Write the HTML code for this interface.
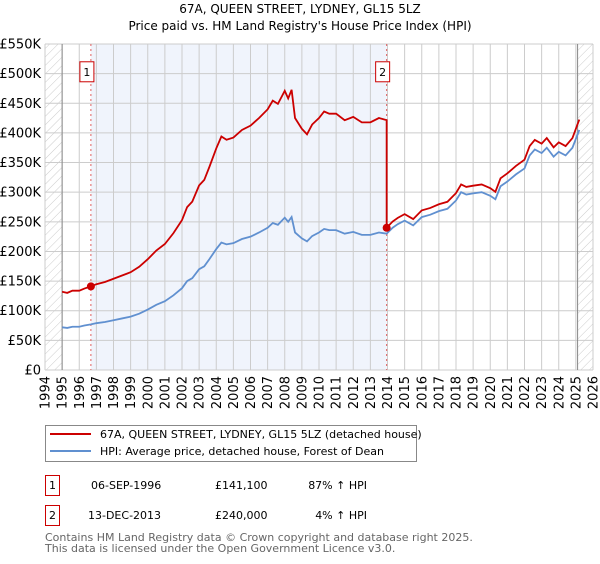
<!DOCTYPE html>
<html><head><meta charset="utf-8"><style>
body{margin:0;background:#fff;font-family:"DejaVu Sans","Liberation Sans",sans-serif;}
svg text{font-family:"DejaVu Sans","Liberation Sans",sans-serif;}
</style></head><body>
<svg id="c" width="600" height="560" xmlns="http://www.w3.org/2000/svg">
<defs><pattern id="hatch" width="6" height="6" patternUnits="userSpaceOnUse" patternTransform="rotate(45)"><line x1="0" y1="0" x2="0" y2="6" stroke="#ccc" stroke-width="1"/></pattern></defs>
<text x="300" y="13" text-anchor="middle" font-size="12">67A, QUEEN STREET, LYDNEY, GL15 5LZ</text>
<text x="300" y="30" text-anchor="middle" font-size="12">Price paid vs. HM Land Registry's House Price Index (HPI)</text>
<g id="plot"></g>
<g>
<rect x="45.5" y="425.5" width="371" height="36" fill="#fff" stroke="#888"/>
<line x1="50" y1="434" x2="91" y2="434" stroke="#cc0000" stroke-width="2"/>
<text x="100" y="438" font-size="11">67A, QUEEN STREET, LYDNEY, GL15 5LZ (detached house)</text>
<line x1="50" y1="451" x2="91" y2="451" stroke="#6090d0" stroke-width="2"/>
<text x="100" y="455" font-size="11">HPI: Average price, detached house, Forest of Dean</text>
</g>
<g font-size="11">
<rect x="45.5" y="475.5" width="14" height="20" fill="#fff" stroke="#cc0000"/>
<text x="52.5" y="489" text-anchor="middle">1</text>
<text x="91" y="489">06-SEP-1996</text><text x="215" y="489">£141,100</text><text x="367" y="489" text-anchor="end">87% ↑ HPI</text>
<rect x="45.5" y="505.5" width="14" height="20" fill="#fff" stroke="#cc0000"/>
<text x="52.5" y="519" text-anchor="middle">2</text>
<text x="88" y="519">13-DEC-2013</text><text x="215" y="519">£240,000</text><text x="367" y="519" text-anchor="end">4% ↑ HPI</text>
</g>
<text x="45" y="541" font-size="11" fill="#666">Contains HM Land Registry data © Crown copyright and database right 2025.</text>
<text x="45" y="552" font-size="11" fill="#666">This data is licensed under the Open Government Licence v3.0.</text>
</svg>
<script>
const hpiYears=[1995.0,1995.3,1995.6,1996.0,1996.3,1996.68,1997.0,1997.5,1998.0,1998.5,1999.0,1999.5,2000.0,2000.5,2001.0,2001.5,2002.0,2002.3,2002.6,2003.0,2003.3,2003.6,2004.0,2004.3,2004.6,2005.0,2005.5,2006.0,2006.5,2007.0,2007.3,2007.6,2008.0,2008.2,2008.4,2008.6,2009.0,2009.3,2009.6,2010.0,2010.3,2010.6,2011.0,2011.5,2012.0,2012.5,2013.0,2013.5,2013.95,2014.3,2014.6,2015.0,2015.5,2016.0,2016.5,2017.0,2017.5,2018.0,2018.3,2018.6,2019.0,2019.5,2020.0,2020.3,2020.6,2021.0,2021.5,2022.0,2022.3,2022.6,2023.0,2023.3,2023.7,2024.0,2024.4,2024.8,2025.2];
const hpiValues=[72,71,73,73,75,77,79,81,84,87,90,95,102,110,116,126,138,150,155,170,175,187,204,215,212,214,221,225,232,240,248,245,257,250,258,232,222,217,226,232,238,236,236,230,233,228,228,232,230,240,246,252,244,258,262,268,272,286,300,296,298,300,294,288,310,318,330,340,362,372,366,375,360,368,362,375,405];
const sale1Year=1996.68, sale1Price=141.1;
const sale2Year=2013.95, sale2Price=240;
const yTicks=[0,50,100,150,200,250,300,350,400,450,500,550];
const xTicks=[1994,1995,1996,1997,1998,1999,2000,2001,2002,2003,2004,2005,2006,2007,2008,2009,2010,2011,2012,2013,2014,2015,2016,2017,2018,2019,2020,2021,2022,2023,2024,2025,2026];
const X=y=>45+(y-1994)*(548/32), Y=v=>370-v*(326/550);
const NS="http://www.w3.org/2000/svg", g=document.getElementById('plot');
function mk(t,a,p){const e=document.createElementNS(NS,t);for(const k in a)e.setAttribute(k,a[k]);(p||g).appendChild(e);return e;}
function hpiAt(yr){for(let i=1;i<hpiYears.length;i++){if(yr<=hpiYears[i]){const t=(yr-hpiYears[i-1])/(hpiYears[i]-hpiYears[i-1]);return hpiValues[i-1]+t*(hpiValues[i]-hpiValues[i-1]);}}return hpiValues[hpiValues.length-1];}
let e;
e=mk('rect',{x:X(sale1Year),y:Y(550),width:X(sale2Year)-X(sale1Year),height:Y(0)-Y(550),fill:'#f0f4fc'});


e=mk('rect',{x:X(1994),y:Y(550),width:X(1995)-X(1994),height:Y(0)-Y(550),fill:'url(#hatch)'});


e=mk('rect',{x:X(2025.1),y:Y(550),width:X(2026)-X(2025.1),height:Y(0)-Y(550),fill:'url(#hatch)'});


yTicks.forEach(v=>{mk('line',{x1:X(1994),x2:X(2026),y1:Y(v),y2:Y(v),stroke:'#ccc'});
e=mk('text',{x:41,y:Y(v)+4.5,'text-anchor':'end','font-size':13});e.textContent=v?('£'+v+'K'):'£0';

});
xTicks.forEach(yr=>{mk('line',{x1:X(yr),x2:X(yr),y1:Y(550),y2:Y(0),stroke:'#ccc'});
e=mk('text',{x:0,y:0,'font-size':13,transform:`translate(${X(yr)+4.5},${Y(0)+6}) rotate(-90)`,'text-anchor':'end'});e.textContent=yr;

});
mk('line',{x1:X(1995),x2:X(1995),y1:Y(550),y2:Y(0),stroke:'#888'});
mk('line',{x1:X(2025.1),x2:X(2025.1),y1:Y(550),y2:Y(0),stroke:'#888'});
[sale1Year,sale2Year].forEach((s,i)=>{mk('line',{x1:X(s),x2:X(s),y1:Y(550),y2:Y(0),stroke:'#e06060','stroke-dasharray':'2,3'});
e=mk('rect',{x:X(s)-11,y:Y(520),width:14,height:20,fill:'#fff',stroke:'#cc0000'});


e=mk('text',{x:X(s)-4,y:Y(520)+14,'text-anchor':'middle','font-size':11});e.textContent=i+1;});
const f1=sale1Price/hpiAt(sale1Year), f2=sale2Price/hpiAt(sale2Year);
e=mk('polyline',{points:hpiYears.map((yr,i)=>X(yr)+','+Y(hpiValues[i])).join(' '),fill:'none',stroke:'#6090d0','stroke-width':1.8});


let pts=[];hpiYears.forEach((yr,i)=>{if(yr<=sale2Year)pts.push([yr,hpiValues[i]*f1]);});
pts.push([sale2Year,sale2Price]);
hpiYears.forEach((yr,i)=>{if(yr>sale2Year)pts.push([yr,hpiValues[i]*f2]);});
e=mk('polyline',{points:pts.map(p=>X(p[0])+','+Y(p[1])).join(' '),fill:'none',stroke:'#cc0000','stroke-width':1.8});


[[sale1Year,sale1Price],[sale2Year,sale2Price]].forEach((p,i)=>{e=mk('circle',{cx:X(p[0]),cy:Y(p[1]),r:4,fill:'#cc0000'});

});
</script>
</body></html>
